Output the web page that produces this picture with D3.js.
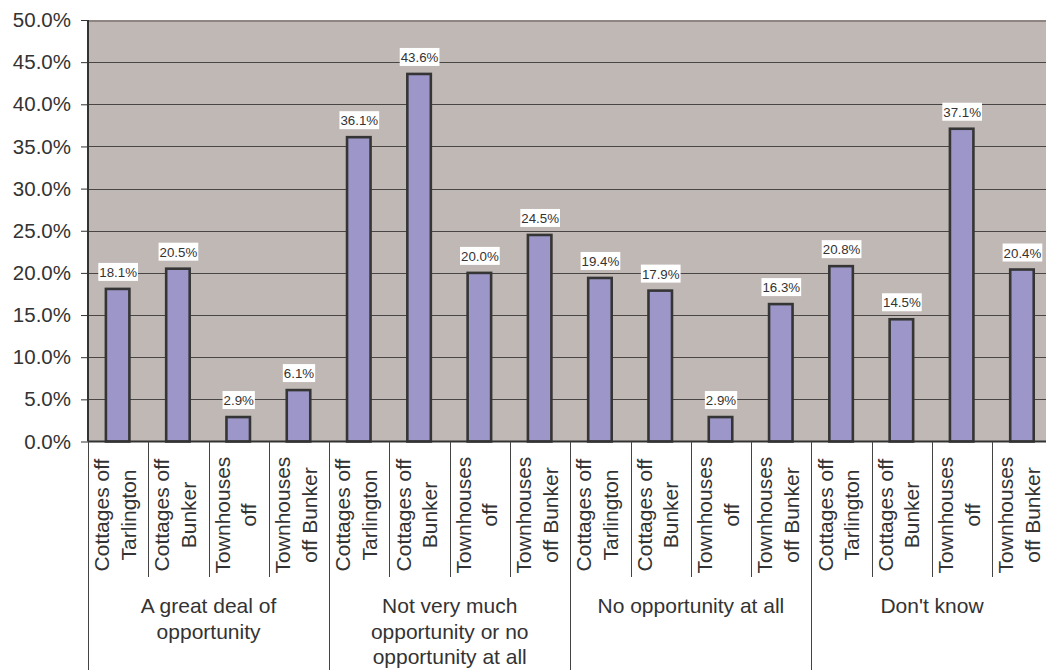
<!DOCTYPE html>
<html>
<head>
<meta charset="utf-8">
<script src="https://cdn.jsdelivr.net/npm/d3@7"></script>
<style>
  html, body { margin: 0; padding: 0; background: #fff; }
  svg { display: block; font-family: "Liberation Sans", Arial, sans-serif; }
</style>
</head>
<body>
<svg id="chart" width="1046" height="670"></svg>
<script>
const groups = [
  ["A great deal of", "opportunity"],
  ["Not very much", "opportunity or no", "opportunity at all"],
  ["No opportunity at all"],
  ["Don't know"]
];
const subcats = [
  ["Cottages off", "Tarlington"],
  ["Cottages off", "Bunker"],
  ["Townhouses", "off"],
  ["Townhouses", "off Bunker"]
];
const values = [
  18.1, 20.5, 2.9, 6.1,
  36.1, 43.6, 20.0, 24.5,
  19.4, 17.9, 2.9, 16.3,
  20.8, 14.5, 37.1, 20.4
];
const yTicks = [0, 5, 10, 15, 20, 25, 30, 35, 40, 45, 50];

(function () {
const svg = d3.select("#chart");
const pLeft = 88, pRight = 1052.6, pTop = 20, pBottom = 441.5;

const slots = d3.range(values.length);
const x = d3.scaleBand().domain(slots).range([pLeft, pRight]).paddingInner(0).paddingOuter(0);
const y = d3.scaleLinear().domain([0, 50]).range([pBottom, pTop]);
const bw = x.bandwidth();

// plot background
svg.append("rect").attr("x", pLeft).attr("y", pTop)
  .attr("width", pRight - pLeft).attr("height", pBottom - pTop)
  .attr("fill", "#C0B8B5");

// gridlines
svg.append("g").selectAll("line").data(yTicks.filter(d => d > 0 && d < 50)).join("line")
  .attr("x1", pLeft).attr("x2", pRight)
  .attr("y1", d => Math.round(y(d)) + 0.5).attr("y2", d => Math.round(y(d)) + 0.5)
  .attr("stroke", "#4a4545").attr("stroke-width", 1);

// top border
svg.append("line").attr("x1", pLeft).attr("x2", pRight)
  .attr("y1", pTop + 1).attr("y2", pTop + 1)
  .attr("stroke", "#8E8481").attr("stroke-width", 2);

// y axis
const yAxis = d3.axisLeft(y).tickValues(yTicks).tickSize(7).tickPadding(10)
  .tickFormat(d => d.toFixed(1) + "%");
const yg = svg.append("g").attr("transform", `translate(${pLeft},0)`).call(yAxis);
yg.select(".domain").remove();
yg.selectAll(".tick line").attr("stroke", "#333").attr("stroke-width", 1);
yg.selectAll(".tick text").attr("font-size", 20.5).attr("fill", "#333")
  .attr("font-family", "Liberation Sans, Arial, sans-serif");
svg.append("line").attr("x1", pLeft).attr("x2", pLeft).attr("y1", pTop).attr("y2", pBottom)
  .attr("stroke", "#333").attr("stroke-width", 2);

// bars
const barW = 23.5;
svg.append("g").selectAll("rect").data(values).join("rect")
  .attr("x", (d, i) => x(i) + bw / 2 - barW / 2 - 0.5)
  .attr("y", d => y(d))
  .attr("width", barW)
  .attr("height", d => pBottom - y(d))
  .attr("fill", "#9C97C8")
  .attr("stroke", "#353535")
  .attr("stroke-width", 2.6);

// data labels
const lg = svg.append("g");
values.forEach((v, i) => {
  const cx = x(i) + bw / 2;
  const boxBottom = y(v) - 8;
  const g = lg.append("g");
  const t = g.append("text").attr("x", cx).attr("y", boxBottom - 4)
    .attr("text-anchor", "middle").attr("font-size", 13.3).attr("fill", "#333")
    .text(v.toFixed(1) + "%");
  const w = t.node().getComputedTextLength();
  g.insert("rect", "text").attr("x", cx - w / 2 - 1).attr("y", boxBottom - 18)
    .attr("width", w + 2).attr("height", 18).attr("fill", "#fff");
});

// x axis line
svg.append("line").attr("x1", pLeft).attr("x2", pRight).attr("y1", pBottom).attr("y2", pBottom)
  .attr("stroke", "#333").attr("stroke-width", 2);

// sub-category dividers
svg.append("g").selectAll("line").data(slots.filter(i => i % 4 !== 0)).join("line")
  .attr("x1", i => Math.round(x(i)) + 0.5).attr("x2", i => Math.round(x(i)) + 0.5)
  .attr("y1", pBottom).attr("y2", 577)
  .attr("stroke", "#444").attr("stroke-width", 1);

// group dividers
svg.append("g").selectAll("line").data([0, 4, 8, 12, 16]).join("line")
  .attr("x1", i => Math.round(i === 16 ? pRight : x(i)) + 0.5)
  .attr("x2", i => Math.round(i === 16 ? pRight : x(i)) + 0.5)
  .attr("y1", pBottom).attr("y2", 670)
  .attr("stroke", "#444").attr("stroke-width", 1);

// sub-category labels (rotated)
svg.append("g").selectAll("text").data(slots).join("text")
  .attr("transform", i => `translate(${x(i) + bw / 2},515) rotate(-90)`)
  .attr("text-anchor", "middle").attr("font-size", 21).attr("fill", "#333")
  .each(function(i) {
    const lines = subcats[i % 4];
    const t = d3.select(this);
    t.append("tspan").attr("x", 0).attr("y", -9).text(lines[0]);
    t.append("tspan").attr("x", 0).attr("y", 17.5).text(lines[1]);
  });

// group labels
svg.append("g").selectAll("text").data(groups).join("text")
  .attr("text-anchor", "middle").attr("font-size", 21).attr("fill", "#333")
  .each(function(lines, gi) {
    const cx = x(gi * 4) + bw * 2;
    const t = d3.select(this);
    lines.forEach((ln, k) => {
      t.append("tspan").attr("x", cx).attr("y", 613 + k * 25.5).text(ln);
    });
  });
})();
</script>
</body>
</html>
